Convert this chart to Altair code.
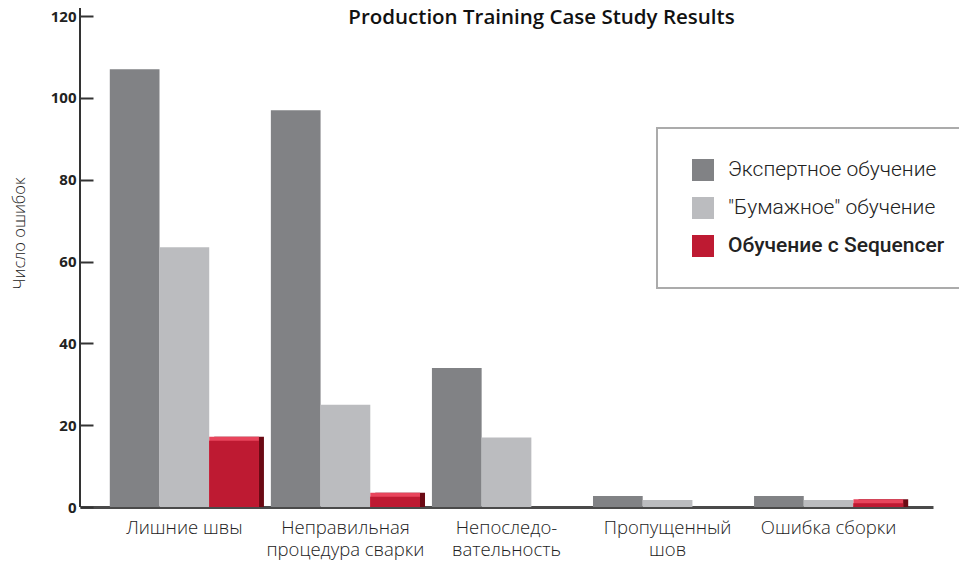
import altair as alt
import pandas as pd

categories = ["Лишние швы", "Неправильная\nпроцедура сварки", "Непоследо-\nвательность",
              "Пропущенный\nшов", "Ошибка сборки"]
series = ["Экспертное обучение", "\"Бумажное\" обучение", "Обучение с Sequencer"]
expert = [107, 97, 34, 2.7, 2.7]
paper = [63.5, 25, 17, 1.7, 1.7]
sequencer = [16.2, 2.5, None, None, 0.9]
colors = ["#818285", "#BBBCBF", "#BE1A32"]

rows = []
for s, vals in zip(series, [expert, paper, sequencer]):
    for c, v in zip(categories, vals):
        if v is not None:
            rows.append({"category": c, "series": s, "value": v})
df = pd.DataFrame(rows)

FONT = "Open Sans"
W, H = 853, 499
P_IN, P_OUT = 0.074, 0.185
step = W / (len(categories) - P_IN + 2 * P_OUT)
slot = step * (1 - P_IN) / len(series)

xscale = alt.Scale(paddingInner=P_IN, paddingOuter=P_OUT)
x = alt.X("category:N", sort=categories, title=None, scale=xscale,
          axis=alt.Axis(labelExpr="split(datum.value, '\\n')", labelAngle=0,
                        labelFont=FONT, labelFontSize=18.5, labelFontWeight=300,
                        labelColor="#222", labelPadding=11, labelLineHeight=22,
                        ticks=False, domainColor="#4a4a4a", domainWidth=3))
xo = alt.XOffset("series:N", sort=series, scale=alt.Scale(paddingInner=0, paddingOuter=0))
y = alt.Y("value:Q", title="Число ошибок",
          scale=alt.Scale(domain=[0, 122], nice=False),
          axis=alt.Axis(values=[0, 20, 40, 60, 80, 100, 120], grid=False, domain=False,
                        offset=-13, tickSize=13, tickWidth=2, tickColor="#333",
                        labelFont=FONT, labelFontSize=15, labelFontWeight="bold",
                        labelColor="#222", labelPadding=4,
                        titleFont=FONT, titleFontSize=16.5, titleFontWeight=300,
                        titleColor="#222", titleX=-74, titleY=225,
                        titleAngle=-90, titleBaseline="middle", titleAlign="center"))

color = alt.Color("series:N", sort=series,
                  scale=alt.Scale(domain=series, range=colors),
                  legend=alt.Legend(title=None, orient="none", legendX=577, legendY=120,
                                    padding=31, symbolOffset=4, rowPadding=16,
                                    symbolType="square", symbolSize=484,
                                    symbolStrokeWidth=0, labelOffset=14,
                                    labelFont="Roboto",
                                    labelFontSize=21, labelColor="#222",
                                    labelFontWeight=alt.ExprRef(
                                        "datum.value == 'Обучение с Sequencer' ? 500 : 300"),
                                    labelLimit=400,
                                    strokeColor="#ABABAB",
                                    fillColor="white"))

base = alt.Chart(df)
bars = base.mark_bar().encode(x=x, xOffset=xo, y=y, color=color)

red = base.transform_filter(alt.datum.series == series[2])
side = red.mark_bar(color="#6B0A14", width=alt.RelativeBandSize(1 / 3),
                    xOffset=slot + 5, yOffset=-4).encode(x=x, y=y, y2=alt.datum(0))
top = red.mark_bar(color="#E8455C", yOffset=-4).encode(
    x=x, xOffset=xo, y=y, y2=alt.datum(0))
front = red.mark_bar(color="#BE1A32").encode(x=x, xOffset=xo, y=y, y2=alt.datum(0))

axis_line = alt.Chart(df).mark_rule(color="#333", strokeWidth=2).encode(
    x=alt.value(0), y=alt.value(0), y2=alt.value(H))

chart = alt.layer(bars, side, top, front, axis_line).properties(
    width=W, height=H,
    title=alt.Title("Production Training Case Study Results", font=FONT, fontSize=20.5,
                    fontWeight=600, color="#111", dx=35, offset=-21, anchor="middle"),
    autosize=alt.AutoSizeParams(type="none"),
    padding={"left": 72, "top": 0, "right": 26, "bottom": 70},
).configure_view(stroke=None).configure_legend(strokeWidth=2)

chart.save("out.html", embed_options={"renderer": "svg", "actions": False})
